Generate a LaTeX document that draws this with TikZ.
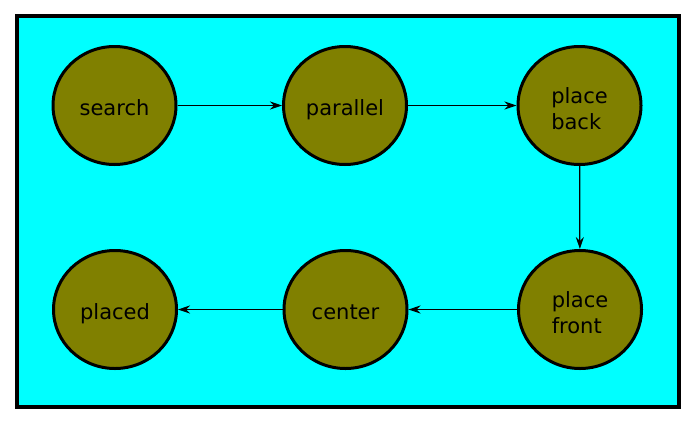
\documentclass[tikz,border=0pt]{standalone}
\usepackage{fontspec}
\setmainfont{DejaVu Sans}
\usetikzlibrary{shapes.geometric,arrows.meta}
\definecolor{bgcyan}{RGB}{0,255,255}
\definecolor{nodeolive}{RGB}{128,128,0}
\begin{document}
\begin{tikzpicture}[x=1pt,y=-1pt,
  statebase/.style={ellipse,draw=black,line width=3pt,fill=nodeolive,
    minimum width=123pt,minimum height=118pt,inner sep=0pt,
    font=\fontsize{21}{26}\selectfont,align=left},
  state/.style={statebase,text height=19pt,text depth=0pt},
  state2/.style={statebase,text height=47pt,text depth=0pt},
  arr/.style={-{Stealth[length=12pt,width=8pt,inset=4pt]},line width=1.2pt}]
\useasboundingbox (0,0) rectangle (696,426);
\draw[line width=4pt,fill=bgcyan] (17,16) rectangle (679,407);
\node[state] (search) at (114.5,105.5) {search};
\node[state] (parallel) at (345,105.5) {parallel};
\node[state2] (back) at (579.5,105.5) {place\\back};
\node[state2] (front) at (580,309.5) {place\\front};
\node[state] (center) at (345.5,309.5) {center};
\node[state] (placed) at (115,309.5) {placed};
\draw[arr] (search) -- (parallel);
\draw[arr] (parallel) -- (back);
\draw[arr] (back) -- (front);
\draw[arr] (front) -- (center);
\draw[arr] (center) -- (placed);
\end{tikzpicture}
\end{document}
